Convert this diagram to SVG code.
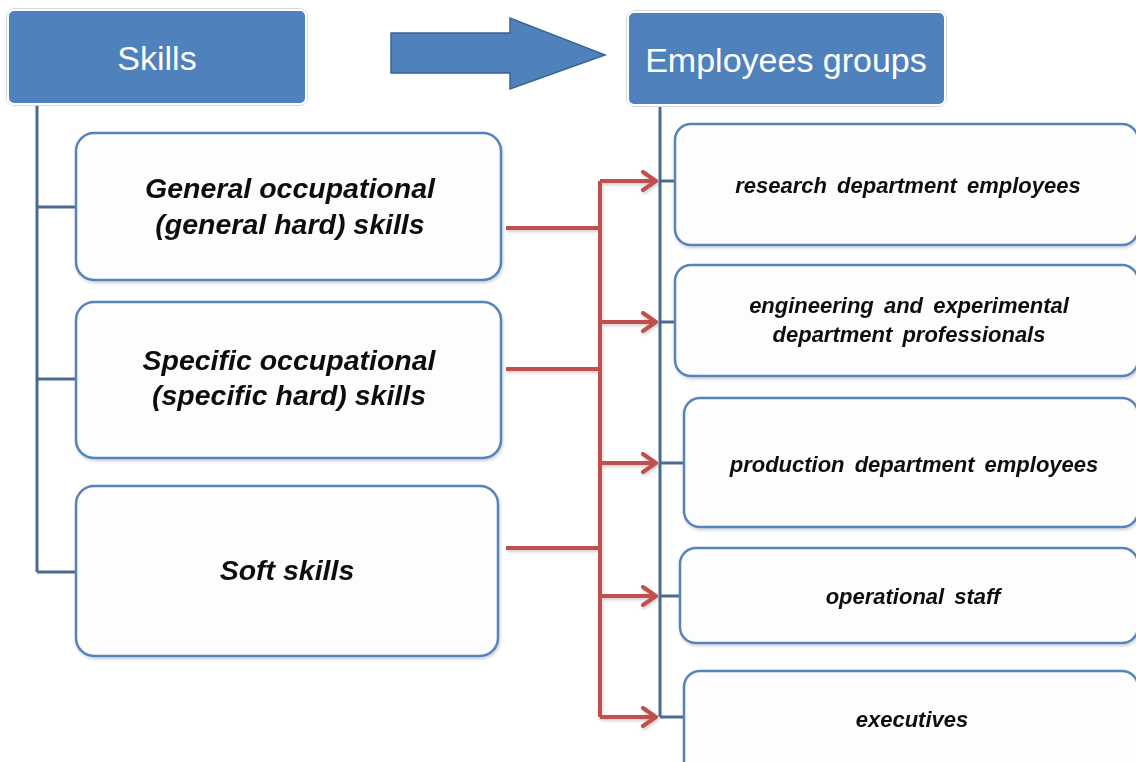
<svg xmlns="http://www.w3.org/2000/svg" width="1136" height="762" viewBox="0 0 1136 762">
  <defs>
    <style>
      .head { fill: #4F81BD; stroke: #ffffff; stroke-width: 2; }
      .headOuter { fill: none; stroke: #cfd6df; stroke-width: 1; }
      .headText { font-family: "Liberation Sans", Arial, sans-serif; font-size: 34px; fill: #ffffff; text-anchor: middle; }
      .box { fill: #fdfdfd; stroke: #5583BC; stroke-width: 2.5; }
      .skillText { font-family: "Liberation Sans", Arial, sans-serif; font-size: 28.5px; font-weight: bold; font-style: italic; fill: #111111; text-anchor: middle; }
      .groupText { font-family: "Liberation Sans", Arial, sans-serif; font-size: 22px; font-weight: bold; font-style: italic; fill: #111111; text-anchor: middle; word-spacing: 4px; }
      .tree { fill: none; stroke: #4A6A94; stroke-width: 3; }
      .link { fill: none; stroke: #C0504D; stroke-width: 4; }
    </style>
    <marker id="chev" viewBox="0 0 20 22" refX="18" refY="11" markerWidth="20" markerHeight="22" markerUnits="userSpaceOnUse" orient="auto">
      <polyline points="4,2 17,11 4,20" fill="none" stroke="#C0504D" stroke-width="4" stroke-linecap="round" stroke-linejoin="round"/>
    </marker>
    <filter id="soft" x="-5%" y="-5%" width="110%" height="115%">
      <feDropShadow dx="1" dy="2" stdDeviation="1.5" flood-color="#000" flood-opacity="0.18"/>
    </filter>
  </defs>

  <rect width="1136" height="762" fill="#ffffff"/>

  <!-- hierarchy lines and red links -->
  <g id="connectors">
    <path class="tree" d="M37,104 V572 M37,207 H77 M37,379 H77 M37,572 H77"/>
    <path class="tree" d="M660,105 V717 M660,181 H676 M660,322 H676 M660,463 H685 M660,596 H681 M660,717 H685"/>
    <g filter="url(#soft)">
      <path class="link" d="M506,228 H600 M506,369 H600 M506,548 H600 M600,181 V717"/>
      <path class="link" d="M600,181 H657" marker-end="url(#chev)"/>
      <path class="link" d="M600,322 H657" marker-end="url(#chev)"/>
      <path class="link" d="M600,463 H657" marker-end="url(#chev)"/>
      <path class="link" d="M600,596 H657" marker-end="url(#chev)"/>
      <path class="link" d="M600,717 H657" marker-end="url(#chev)"/>
    </g>
    <polygon points="391,33 510,33 510,18 605,55 510,89 510,73 391,73" fill="#4F81BD" stroke="#3B6392" stroke-width="1.5"/>
  </g>

  <g id="skills">
    <rect class="headOuter" x="6.5" y="8.5" width="301" height="97" rx="8"/>
    <rect class="head" x="8" y="10" width="298" height="94" rx="6"/>
    <text class="headText" x="157" y="70">Skills</text>
  </g>

  <g id="employees-groups">
    <rect class="headOuter" x="626.5" y="10.5" width="320" height="96" rx="8"/>
    <rect class="head" x="628" y="12" width="317" height="93" rx="6"/>
    <text class="headText" x="786" y="72">Employees groups</text>
  </g>

  <g id="general-skills" filter="url(#soft)">
    <rect class="box" x="76" y="133" width="425" height="147" rx="18"/>
    <text class="skillText" x="290" y="198">General occupational</text>
    <text class="skillText" x="290" y="234">(general hard) skills</text>
  </g>

  <g id="specific-skills" filter="url(#soft)">
    <rect class="box" x="76" y="302" width="425" height="156" rx="18"/>
    <text class="skillText" x="289" y="370">Specific occupational</text>
    <text class="skillText" x="289" y="405">(specific hard) skills</text>
  </g>

  <g id="soft-skills" filter="url(#soft)">
    <rect class="box" x="76" y="486" width="422" height="170" rx="18"/>
    <text class="skillText" x="287" y="580">Soft skills</text>
  </g>

  <g id="research" filter="url(#soft)">
    <rect class="box" x="675" y="124" width="463" height="121" rx="16"/>
    <text class="groupText" x="908" y="193">research department employees</text>
  </g>

  <g id="engineering" filter="url(#soft)">
    <rect class="box" x="675" y="265" width="463" height="111" rx="16"/>
    <text class="groupText" x="909" y="313">engineering and experimental</text>
    <text class="groupText" x="909" y="342">department professionals</text>
  </g>

  <g id="production" filter="url(#soft)">
    <rect class="box" x="684" y="398" width="454" height="129" rx="16"/>
    <text class="groupText" x="914" y="472">production department employees</text>
  </g>

  <g id="operational" filter="url(#soft)">
    <rect class="box" x="680" y="548" width="458" height="95" rx="16"/>
    <text class="groupText" x="913" y="604">operational staff</text>
  </g>

  <g id="executives" filter="url(#soft)">
    <rect class="box" x="684" y="671" width="454" height="110" rx="16"/>
    <text class="groupText" x="912" y="727">executives</text>
  </g>
</svg>
